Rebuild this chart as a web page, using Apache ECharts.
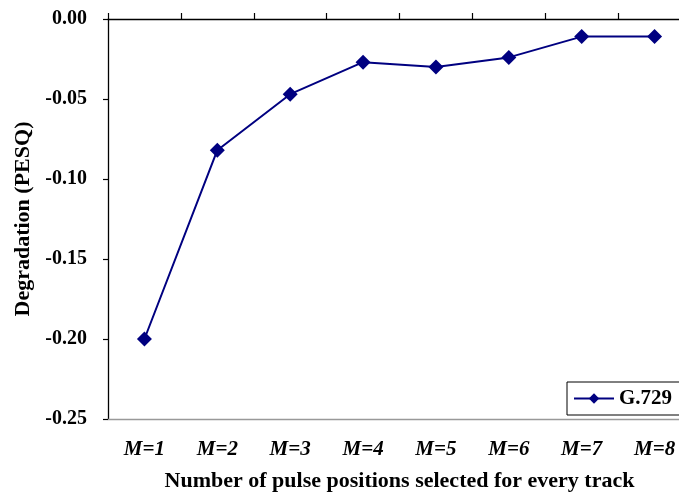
<!DOCTYPE html>
<html>
<head>
<meta charset="utf-8">
<script src="https://cdn.jsdelivr.net/npm/echarts@6/dist/echarts.min.js"></script>
<style>
  html, body { margin: 0; padding: 0; background: #fff; overflow: hidden; }
  #chart { width: 691px; height: 494px; }
</style>
</head>
<body>
<div id="chart"></div>
<script>
// Number of pulse positions per track and the PESQ degradation for G.729
const categories = ['M=1', 'M=2', 'M=3', 'M=4', 'M=5', 'M=6', 'M=7', 'M=8'];
const degradation = [-0.200, -0.082, -0.047, -0.027, -0.030, -0.024, -0.011, -0.011];
const seriesName = 'G.729';

const serif = '"Liberation Serif", "DejaVu Serif", serif';
const navy = '#000080';

const chart = echarts.init(document.getElementById('chart'), null, { renderer: 'canvas' });
chart.setOption({
  animation: false,
  backgroundColor: '#fff',
  grid: { left: 108, right: 0, top: 19, bottom: 75, containLabel: false, outerBoundsMode: 'none' },
  legend: {
    data: [seriesName],
    left: 567, top: 382,
    orient: 'horizontal',
    backgroundColor: '#fff',
    borderColor: '#000', borderWidth: 1, borderRadius: 0,
    padding: [6, 30, 6, 6],
    itemWidth: 40, itemHeight: 13, itemGap: 4,
    textStyle: { fontFamily: serif, fontWeight: 'bold', fontSize: 21, color: '#000' }
  },
  xAxis: [
    {
      // zero line along the top edge, ticks pointing upward
      type: 'category', data: categories, position: 'top', boundaryGap: true,
      axisLine: { show: true, lineStyle: { color: '#000', width: 1.3 } },
      axisTick: { show: true, inside: false, length: 6, lineStyle: { color: '#000', width: 1.2 } },
      axisLabel: { show: false },
      splitLine: { show: false }
    },
    {
      type: 'category', data: categories, position: 'bottom', boundaryGap: true,
      axisLine: { show: true, lineStyle: { color: '#999', width: 1.3 } },
      axisTick: { show: false },
      axisLabel: {
        margin: 20, fontFamily: serif, fontWeight: 'bold', fontStyle: 'italic',
        fontSize: 21, color: '#000'
      },
      name: 'Number of pulse positions selected for every track',
      nameLocation: 'middle', nameGap: 51,
      nameTextStyle: { fontFamily: serif, fontWeight: 'bold', fontSize: 22, color: '#000' }
    }
  ],
  yAxis: {
    type: 'value', min: -0.25, max: 0, interval: 0.05,
    axisLine: { show: true, lineStyle: { color: '#000', width: 1.3 } },
    axisTick: { show: true, length: 5, lineStyle: { color: '#000', width: 1.2 } },
    splitLine: { show: false },
    axisLabel: {
      margin: 21, fontFamily: serif, fontWeight: 'bold', fontSize: 20, color: '#000',
      formatter: v => v.toFixed(2)
    },
    name: 'Degradation (PESQ)',
    nameLocation: 'middle', nameGap: 68, nameRotate: 90,
    nameTextStyle: { fontFamily: serif, fontWeight: 'bold', fontSize: 22, color: '#000' }
  },
  series: [{
    name: seriesName,
    type: 'line',
    xAxisIndex: 0,
    data: degradation,
    symbol: 'diamond', symbolSize: 15,
    lineStyle: { color: navy, width: 2 },
    itemStyle: { color: navy },
    z: 3
  }]
});
</script>
</body>
</html>
